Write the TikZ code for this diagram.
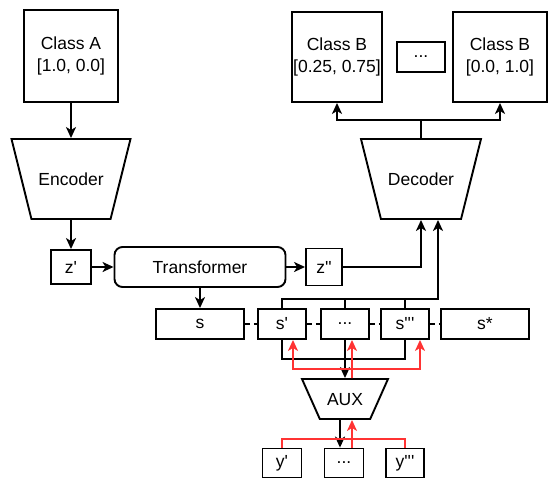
\documentclass[tikz,border=0pt]{standalone}
\usepackage{fontspec}
\setmainfont{Liberation Sans}[Ligatures=TeXOff]
\usetikzlibrary{shapes.geometric,arrows.meta}
\definecolor{auxred}{HTML}{FF3333}
\tikzset{
  box/.style={draw, line width=1.9pt, inner sep=0pt, align=center},
  trap/.style={draw, line width=1.9pt, trapezium, shape border rotate=180,
    trapezium stretches body, inner xsep=0pt, text height=12pt, text depth=0pt},
  link/.style={line width=1.9pt},
  conn/.style={link, -{Stealth[length=11pt,width=10pt,inset=3pt]}},
  back/.style={conn, auxred},
}
\begin{document}
\begin{tikzpicture}[x=1pt,y=-1pt,font=\fontsize{17.5}{22}\selectfont]
\useasboundingbox (0,0) rectangle (557,491);

\node[box, minimum width=94pt, minimum height=92pt] (classA) at (71,56) {Class A\\{[1.0, 0.0]}};
\node[trap, trapezium angle=76, minimum width=119pt, inner ysep=34pt] (enc) at (71,179) {Encoder};
\node[box, minimum width=40pt, minimum height=34pt] (z1) at (71,267) {z'};
\node[box, rounded corners=8pt, minimum width=171pt, minimum height=40pt] (trans) at (200,267) {Transformer};
\node[box, minimum width=36pt, minimum height=37pt] (z2) at (324,267) {z''};

\node[trap, trapezium angle=76, minimum width=120pt, inner ysep=34pt] (dec) at (421,179) {Decoder};
\node[box, minimum width=90pt, minimum height=90pt] (classB1) at (337,57) {Class B\\{[0.25, 0.75]}};
\node[box, minimum width=48pt, minimum height=30pt] (classBd) at (421,57) {...};
\node[box, minimum width=94pt, minimum height=90pt] (classB2) at (500,57) {Class B\\{[0.0, 1.0]}};

\node[box, minimum width=88pt, minimum height=30pt] (s0) at (200,324) {s};
\node[box, minimum width=48pt, minimum height=30pt] (s1) at (282,324) {s'};
\node[box, minimum width=48pt, minimum height=30pt] (sd) at (345,324) {...};
\node[box, minimum width=48pt, minimum height=30pt] (s3) at (405,324) {s'''};
\node[box, minimum width=88pt, minimum height=30pt] (ss) at (485,324) {s*};

\node[trap, trapezium angle=66, minimum width=86pt, inner ysep=14pt] (aux) at (345,399) {AUX};

\node[box, minimum width=39pt, minimum height=29pt] (y1) at (282,463) {y'};
\node[box, minimum width=39pt, minimum height=29pt] (yd) at (344,463) {...};
\node[box, minimum width=38pt, minimum height=29pt] (y3) at (405,463) {y'''};

\coordinate (split) at (421,120);
\coordinate (bus) at (438,299);
\coordinate (low) at (345,359);
\coordinate (redup) at (352,369);
\coordinate (redlow) at (352,439);

\draw[conn] (classA) -- (enc);
\draw[conn] (enc) -- (z1);
\draw[conn] (z1) -- (trans);
\draw[conn] (trans) -- (z2);
\draw[conn] (trans) -- (s0);
\draw[conn] (z2) -| (dec);
\draw[conn] (s1.north) |- (bus) -- (bus |- dec.south);
\foreach \n in {sd,s3}
  \draw[link] (\n.north) -- (\n.north |- bus);
\draw[link] (dec) -- (split);
\draw[conn] (split) -| (classB1);
\draw[conn] (split) -| (classB2);

\foreach \a/\b in {s0/s1,s1/sd,sd/s3,s3/ss}
  \draw[link, dash pattern=on 5pt off 4pt] (\a) -- (\b);

\draw[link] (s1.south) |- (low) -| (s3.south);
\draw[conn] (sd) -- (aux);
\draw[back] ([xshift=7pt]aux.north) -- ([xshift=7pt]sd.south);
\draw[back] (redup) -| ([xshift=11pt]s1.south);
\draw[back] (redup) -| ([xshift=15pt]s3.south);

\draw[conn] ([xshift=-5pt]aux.south) -- ([xshift=-5pt]aux.south |- yd.north);
\draw[back] ([xshift=7pt]aux.south |- yd.north) -- ([xshift=7pt]aux.south);
\draw[link, auxred] (y1.north) |- (redlow) -| (y3.north);
\end{tikzpicture}
\end{document}
